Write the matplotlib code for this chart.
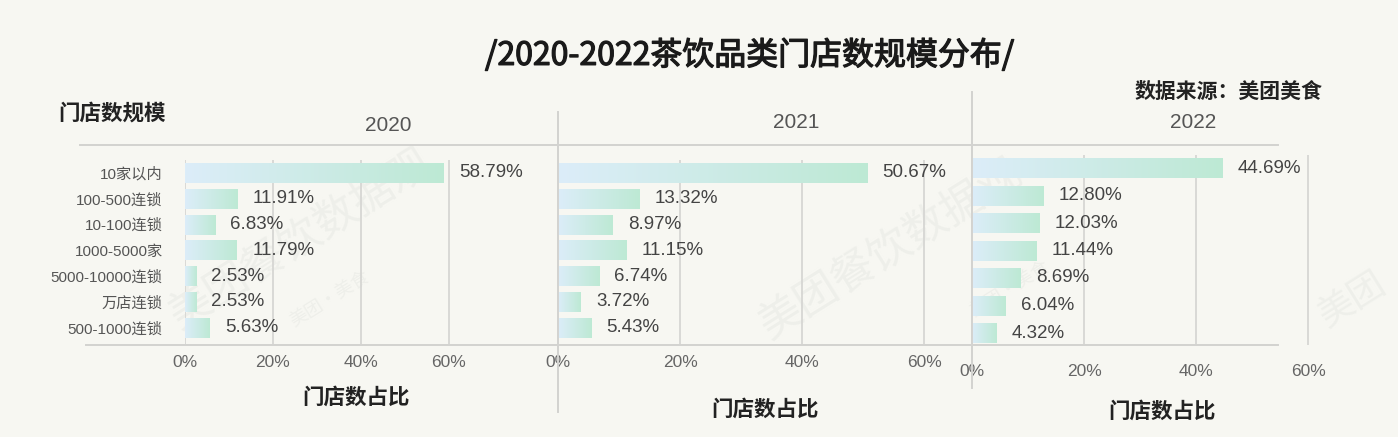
import matplotlib
matplotlib.use("Agg")
import matplotlib.pyplot as plt
import numpy as np
from matplotlib.colors import LinearSegmentedColormap
from matplotlib.lines import Line2D
import matplotlib.patheffects as pe

plt.rcParams['font.family'] = ['Liberation Sans', 'Noto Sans CJK SC', 'DejaVu Sans']

# ---------------- data ----------------
categories = ["10家以内", "100-500连锁", "10-100连锁", "1000-5000家",
              "5000-10000连锁", "万店连锁", "500-1000连锁"]
years = ["2020", "2021", "2022"]
share_2020 = [58.79, 11.91, 6.83, 11.79, 2.53, 2.53, 5.63]
share_2021 = [50.67, 13.32, 8.97, 11.15, 6.74, 3.72, 5.43]
share_2022 = [44.69, 12.80, 12.03, 11.44, 8.69, 6.04, 4.32]
labels_2020 = ["58.79%", "11.91%", "6.83%", "11.79%", "2.53%", "2.53%", "5.63%"]
labels_2021 = ["50.67%", "13.32%", "8.97%", "11.15%", "6.74%", "3.72%", "5.43%"]
labels_2022 = ["44.69%", "12.80%", "12.03%", "11.44%", "8.69%", "6.04%", "4.32%"]
x_ticks = [0, 20, 40, 60]
x_tick_labels = ["0%", "20%", "40%", "60%"]
title = "/2020-2022茶饮品类门店数规模分布/"
source = "数据来源：美团美食"
y_title = "门店数规模"
x_title = "门店数占比"

series = [share_2020, share_2021, share_2022]
value_labels = [labels_2020, labels_2021, labels_2022]

# ---------------- layout (pixels) ----------------
W, H = 1398, 437
BG = "#f7f7f2"
LINE = "#d3d3d0"
fig = plt.figure(figsize=(W / 100, H / 100), dpi=100, facecolor=BG)


def fx(x):
    return x / W


def fy(y):
    return 1 - y / H


# faint watermarks (drawn first, behind everything)
wm_color = "#eeefea"
for (x, y, txt, fs) in [(300, 240, "美团餐饮数据观", 31), (890, 250, "美团餐饮数据观", 31),
                        (1352, 300, "美团", 26), (330, 300, "美团·美食", 13),
                        (1010, 290, "美团·美食", 13)]:
    fig.text(fx(x), fy(y), txt, ha="center", va="center", fontsize=fs, rotation=32,
             color=wm_color, zorder=-5, family=['Noto Sans CJK SC', 'DejaVu Sans'])

# per panel: left px, right px, top px, bottom px, px per %, first-bar centre, pitch, bar px height, tick pad
panels = [
    dict(left=185, right=558, top=160, bottom=345, scale=4.4, c0=173, pitch=25.8, bh=20, pad=7.5,
         year_xy=(388, 125), xl_xy=(356, 398)),
    dict(left=558, right=972, top=160, bottom=345, scale=6.1, c0=173, pitch=25.8, bh=20, pad=7.5,
         year_xy=(796, 122), xl_xy=(765, 410)),
    dict(left=972, right=1330, top=155, bottom=345, scale=5.6, c0=168, pitch=27.5, bh=20, pad=14,
         year_xy=(1193, 122), xl_xy=(1162, 412)),
]

cmap = LinearSegmentedColormap.from_list("bar", ["#dcedf9", "#bde9d4"])
grad = np.linspace(0, 1, 256).reshape(1, -1)

n = len(categories)
ypos = np.arange(n)

for k, p in enumerate(panels):
    ax = fig.add_axes([fx(p["left"]), fy(p["bottom"]),
                       fx(p["right"] - p["left"]), (p["bottom"] - p["top"]) / H])
    ax.set_facecolor("none")
    for s in ax.spines.values():
        s.set_visible(False)

    hbar = p["bh"] / p["pitch"]
    bars = ax.barh(ypos, series[k], height=hbar, facecolor="none", edgecolor="none", zorder=3)
    for b in bars:
        x0, y0 = b.get_x(), b.get_y()
        im = ax.imshow(grad, cmap=cmap, aspect="auto", interpolation="bilinear",
                       extent=[x0, x0 + b.get_width(), y0 + b.get_height(), y0], zorder=2)
        im.set_clip_path(b)

    for i, (v, lab) in enumerate(zip(series[k], value_labels[k])):
        ax.annotate(lab, (v, i), xytext=(11, 0), textcoords="offset points",
                    va="center", ha="left", fontsize=13.5, color="#444444", zorder=4)

    ax.set_xlim(0, (p["right"] - p["left"]) / p["scale"])
    ax.set_ylim((p["bottom"] - p["c0"]) / p["pitch"], -(p["c0"] - p["top"]) / p["pitch"])

    ax.set_xticks(x_ticks)
    ax.set_xticklabels(x_tick_labels)
    ax.tick_params(axis="x", length=0, pad=p["pad"], labelsize=12.5, labelcolor="#666666")
    ax.grid(axis="x", color="#d6d6d3", linewidth=1.3, zorder=0)
    ax.set_axisbelow(True)

    if k == 0:
        ax.set_yticks(ypos)
        ax.set_yticklabels(categories)
        ax.tick_params(axis="y", length=0, pad=16, labelsize=11, labelcolor="#555555")
    else:
        ax.set_yticks([])

    fig.text(fx(p["year_xy"][0]), fy(p["year_xy"][1]), years[k], ha="center", va="center",
             fontsize=15, color="#555555")
    fig.text(fx(p["xl_xy"][0]), fy(p["xl_xy"][1]), x_title, ha="center", va="center",
             fontsize=15.5, fontweight="bold", color="#222222")

# frame lines
fig.add_artist(Line2D([fx(80), fx(1278)], [fy(145), fy(145)], color=LINE, lw=1.4, zorder=1))
fig.add_artist(Line2D([fx(86), fx(1278)], [fy(345), fy(345)], color=LINE, lw=1.4, zorder=1))
fig.add_artist(Line2D([fx(558), fx(558)], [fy(112), fy(412)], color=LINE, lw=1.4, zorder=1))
fig.add_artist(Line2D([fx(972), fx(972)], [fy(92), fy(388)], color=LINE, lw=1.4, zorder=1))

# texts
fig.text(fx(750), fy(55), title, ha="center", va="center", fontsize=23,
         color="#1a1a1a", family=['Noto Sans CJK SC', 'DejaVu Sans'],
         path_effects=[pe.withStroke(linewidth=0.9, foreground="#1a1a1a")])
fig.text(fx(1322), fy(91), source, ha="right", va="center", fontsize=15,
         fontweight="bold", color="#222222", family=['Noto Sans CJK SC', 'DejaVu Sans'])
fig.text(fx(58), fy(113), y_title, ha="left", va="center", fontsize=15.5,
         fontweight="bold", color="#222222", family=['Noto Sans CJK SC', 'DejaVu Sans'])

fig.savefig("out.png", dpi=100, facecolor=BG)
